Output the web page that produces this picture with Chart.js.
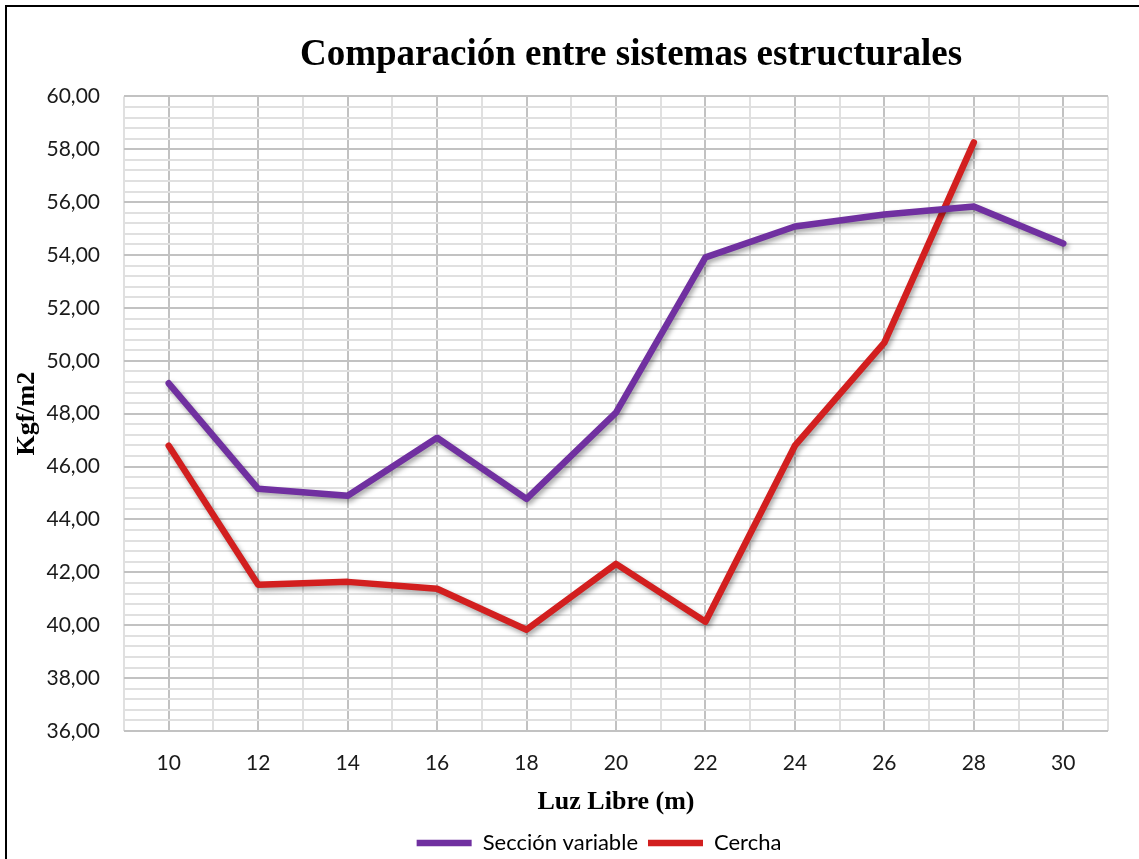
<!DOCTYPE html>
<html lang="es">
<head>
<meta charset="utf-8">
<title>Comparación entre sistemas estructurales</title>
<script src="https://cdn.jsdelivr.net/npm/chart.js@4.4.1/dist/chart.umd.min.js"></script>
<style>
    html, body { margin: 0; padding: 0; background: #fff; overflow: hidden; }
    #frame {
        position: absolute; left: 5px; top: 5px;
        width: 1200px; height: 900px;
        border-left: 2px solid #000; border-top: 2px solid #000;
    }
    #chart { position: absolute; left: 0; top: 0; }
</style>
</head>
<body>
<div id="frame"></div>
<canvas id="chart" width="1139" height="859"></canvas>
<script>
// ============================================================
// DATA
// ============================================================
const luces = [10, 12, 14, 16, 18, 20, 22, 24, 26, 28, 30];
const seccionVariable = [49.15, 45.16, 44.90, 47.09, 44.78, 48.04, 53.91, 55.08, 55.53, 55.84, 54.44];
const cercha = [46.79, 41.53, 41.64, 41.38, 39.83, 42.32, 40.13, 46.79, 50.69, 58.26, null];
const yMin = 36, yMax = 60, yMinorStep = 0.4;
const xMin = 9, xMax = 31;

const SERIF = "'Liberation Serif', 'Times New Roman', serif";
const SANS = "Lato, 'Noto Sans', sans-serif";

function toPoints(values) {
    return luces.map(function (x, i) { return { x: x, y: values[i] }; });
}

function isEven(v) {
    return Math.abs(v / 2 - Math.round(v / 2)) < 1e-6;
}

// soft drop shadow under each line, like the office chart style
const lineShadow = {
    id: 'lineShadow',
    beforeDatasetDraw: function (chart) {
        const ctx = chart.ctx;
        ctx.save();
        ctx.shadowColor = 'rgba(0, 0, 0, 0.35)';
        ctx.shadowBlur = 5;
        ctx.shadowOffsetX = 2;
        ctx.shadowOffsetY = 3;
    },
    afterDatasetDraw: function (chart) {
        chart.ctx.restore();
    }
};

// title sits right of centre, legend a little right too
const boxShift = {
    id: 'boxShift',
    afterLayout: function (chart) {
        if (chart.titleBlock) {
            chart.titleBlock.left += 77;
            chart.titleBlock.right += 77;
        }
        if (chart.legend) {
            chart.legend.left += 45;
            chart.legend.right += 45;
        }
    }
};

new Chart(document.getElementById('chart'), {
    type: 'line',
    data: {
        datasets: [{
            label: 'Sección variable',
            data: toPoints(seccionVariable),
            borderColor: '#7030A0',
            backgroundColor: '#7030A0',
            borderWidth: 6.5,
            borderCapStyle: 'round',
            borderJoinStyle: 'round',
            pointRadius: 0,
            tension: 0
        }, {
            label: 'Cercha',
            data: toPoints(cercha),
            borderColor: '#D21F1F',
            backgroundColor: '#D21F1F',
            borderWidth: 6.5,
            borderCapStyle: 'round',
            borderJoinStyle: 'round',
            pointRadius: 0,
            tension: 0
        }]
    },
    options: {
        responsive: false,
        animation: false,
        layout: { padding: { left: 0, right: 31, top: 0, bottom: -5 } },
        plugins: {
            title: {
                display: true,
                text: 'Comparación entre sistemas estructurales',
                color: '#000',
                font: { family: SERIF, size: 37, weight: 'bold' },
                padding: { top: 33, bottom: 19 }
            },
            legend: {
                position: 'bottom',
                labels: {
                    usePointStyle: true,
                    pointStyle: 'line',
                    pointStyleWidth: 55,
                    padding: 10,
                    color: '#000',
                    font: { family: SANS, size: 22 }
                }
            },
            tooltip: { enabled: false }
        },
        scales: {
            x: {
                type: 'linear',
                min: xMin,
                max: xMax,
                afterFit: function (scale) { scale.height = 91; },
                border: { display: false },
                grid: {
                    drawTicks: false,
                    lineWidth: 2,
                    color: function (c) { return isEven(c.tick.value) ? '#c2c2c2' : '#e0e0e0'; }
                },
                ticks: {
                    stepSize: 1,
                    autoSkip: false,
                    maxRotation: 0,
                    padding: 20,
                    color: '#1a1a1a',
                    font: { family: SANS, size: 21 },
                    callback: function (v) { return isEven(v) ? String(v) : ''; }
                },
                title: {
                    display: true,
                    text: 'Luz Libre (m)',
                    color: '#000',
                    font: { family: SERIF, size: 26, weight: 'bold' },
                    padding: { top: 0, bottom: 4 }
                }
            },
            y: {
                min: yMin,
                max: yMax,
                afterFit: function (scale) { scale.width = 124; },
                border: { display: false },
                grid: {
                    drawTicks: false,
                    lineWidth: 2,
                    color: function (c) { return isEven(c.tick.value) ? '#c2c2c2' : '#e0e0e0'; }
                },
                ticks: {
                    stepSize: yMinorStep,
                    autoSkip: false,
                    padding: 24,
                    color: '#1a1a1a',
                    font: { family: SANS, size: 21 },
                    callback: function (v) { return isEven(v) ? v.toFixed(2).replace('.', ',') : ''; }
                },
                title: {
                    display: true,
                    text: 'Kgf/m2',
                    color: '#000',
                    font: { family: SERIF, size: 26, weight: 'bold' },
                    padding: { top: 12, bottom: 0 }
                }
            }
        }
    },
    plugins: [lineShadow, boxShift]
});
</script>
</body>
</html>
